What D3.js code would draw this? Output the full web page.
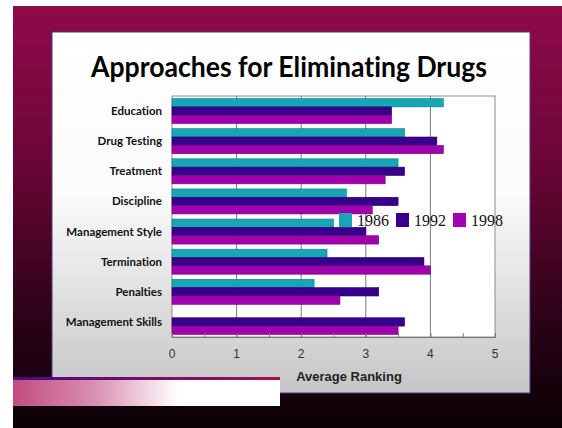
<!DOCTYPE html>
<html>
<head>
<meta charset="utf-8">
<script src="https://cdn.jsdelivr.net/npm/d3@7"></script>
<style>
  body { margin: 0; background: #ffffff; }
  text { font-variant-ligatures: none; }
  .cat-label { font-family: Lato, 'Open Sans', sans-serif; font-weight: bold; font-size: 11.5px; fill: #111; }
  .tick-label { font-family: 'Liberation Sans', Arial, sans-serif; font-size: 12px; fill: #333; }
  .axis-title { font-family: 'Liberation Sans', Arial, sans-serif; font-weight: bold; font-size: 13px; fill: #222; }
  .legend-text { font-family: 'Liberation Serif', 'Times New Roman', serif; font-size: 16px; fill: #111; }
  .chart-title { font-family: Lato, 'Open Sans', sans-serif; font-weight: bold; font-size: 29px; fill: #000; }
</style>
</head>
<body>
<div id="chart"></div>
<script>
// data
var categories = ['Education', 'Drug Testing', 'Treatment', 'Discipline',
    'Management Style', 'Termination', 'Penalties', 'Management Skills'];
var seriesNames = ['1986', '1992', '1998'];
var values1986 = [4.2, 3.6, 3.5, 2.7, 2.5, 2.4, 2.2, 0];
var values1992 = [3.4, 4.1, 3.6, 3.5, 3.0, 3.9, 3.2, 3.6];
var values1998 = [3.4, 4.2, 3.3, 3.1, 3.2, 4.0, 2.6, 3.5];
var tickValues = [0, 1, 2, 3, 4, 5];
var seriesColours = ['#16a6b6', '#37008c', '#a000ae'];
var seriesStrokes = ['#0d7e8a', '#24005e', '#74007e'];

var width = 562, height = 428;

var svg = d3.select('#chart')
    .append('svg')
    .attr('width', width)
    .attr('height', height);

var defs = svg.append('defs');

defs.append('linearGradient')
    .attr('id', 'bg-grad')
    .attr('x1', 0).attr('y1', 0).attr('x2', 0).attr('y2', 1)
    .selectAll('stop')
    .data([['0%', '#8f0a49'], ['35%', '#6e0638'], ['75%', '#2a0216'], ['100%', '#0a0004']])
    .enter().append('stop')
    .attr('offset', function(d) { return d[0]; })
    .attr('stop-color', function(d) { return d[1]; });

defs.append('linearGradient')
    .attr('id', 'panel-grad')
    .attr('x1', 0).attr('y1', 0).attr('x2', 0).attr('y2', 1)
    .selectAll('stop')
    .data([['0%', '#ffffff'], ['45%', '#fbfbfb'], ['100%', '#c6c6c6']])
    .enter().append('stop')
    .attr('offset', function(d) { return d[0]; })
    .attr('stop-color', function(d) { return d[1]; });

defs.append('linearGradient')
    .attr('id', 'strip-grad')
    .attr('x1', 0).attr('y1', 0).attr('x2', 1).attr('y2', 0)
    .selectAll('stop')
    .data([['0%', '#c24c80'], ['30%', '#d88eb0'], ['62%', '#ffffff'], ['100%', '#ffffff']])
    .enter().append('stop')
    .attr('offset', function(d) { return d[0]; })
    .attr('stop-color', function(d) { return d[1]; });

defs.append('linearGradient')
    .attr('id', 'line-grad')
    .attr('x1', 0).attr('y1', 0).attr('x2', 1).attr('y2', 0)
    .selectAll('stop')
    .data([['0%', '#4a0a86'], ['100%', '#a0104e']])
    .enter().append('stop')
    .attr('offset', function(d) { return d[0]; })
    .attr('stop-color', function(d) { return d[1]; });

// slide background
svg.append('rect')
    .attr('x', 13).attr('y', 6)
    .attr('width', width - 13).attr('height', height - 6)
    .style('fill', 'url(#bg-grad)');

// chart panel
svg.append('rect')
    .attr('x', 52).attr('y', 32)
    .attr('width', 478).attr('height', 361)
    .style('fill', 'url(#panel-grad)')
    .style('stroke', '#4b3a86')
    .style('stroke-width', 1);

svg.append('text')
    .attr('class', 'chart-title')
    .attr('x', 91)
    .attr('y', 77)
    .attr('textLength', 396)
    .attr('lengthAdjust', 'spacingAndGlyphs')
    .text('Approaches for Eliminating Drugs');

// plot area
var margin = { left: 172, top: 96, right: 495, bottom: 337 };

var x = d3.scaleLinear()
    .domain([0, 5])
    .range([margin.left, margin.right]);

var y = d3.scaleBand()
    .domain(categories)
    .range([margin.top, margin.bottom])
    .paddingInner(0.17)
    .paddingOuter(0.085);

var ySub = d3.scaleBand()
    .domain(seriesNames)
    .range([0, y.bandwidth()]);

var plot = svg.append('g').attr('class', 'plot');

plot.append('rect')
    .attr('x', margin.left).attr('y', margin.top)
    .attr('width', margin.right - margin.left)
    .attr('height', margin.bottom - margin.top)
    .style('fill', '#ffffff')
    .style('stroke', '#8c8c8c')
    .style('stroke-width', 1);

// gridlines
plot.selectAll('.grid')
    .data(tickValues.slice(1, -1))
    .enter().append('line')
    .attr('class', 'grid')
    .attr('x1', function(d) { return x(d); })
    .attr('x2', function(d) { return x(d); })
    .attr('y1', margin.top)
    .attr('y2', margin.bottom)
    .style('stroke', '#7a7a7a')
    .style('stroke-width', 1);

// bars
var seriesData = [values1986, values1992, values1998];

var rows = [];
categories.forEach(function(c, i) {
    seriesNames.forEach(function(s, j) {
        rows.push({ category: c, series: s, index: j, value: seriesData[j][i] });
    });
});

plot.selectAll('.bar')
    .data(rows.filter(function(d) { return d.value > 0; }))
    .enter().append('rect')
    .attr('class', 'bar')
    .attr('x', x(0))
    .attr('y', function(d) { return y(d.category) + ySub(d.series); })
    .attr('width', function(d) { return x(d.value) - x(0); })
    .attr('height', ySub.bandwidth())
    .style('fill', function(d) { return seriesColours[d.index]; })
    .style('stroke', function(d) { return seriesStrokes[d.index]; })
    .style('stroke-width', 0.6);

// x axis
var xAxis = d3.axisBottom(x)
    .tickValues(d3.range(0, 5.01, 0.5))
    .tickSize(-4)
    .tickFormat('');

plot.append('g')
    .attr('transform', 'translate(0,' + margin.bottom + ')')
    .call(xAxis)
    .call(function(g) {
        g.select('.domain').style('stroke', '#777');
        g.selectAll('.tick line').style('stroke', '#777');
    });

plot.selectAll('.tick-label')
    .data(tickValues)
    .enter().append('text')
    .attr('class', 'tick-label')
    .attr('x', function(d) { return x(d); })
    .attr('y', 358)
    .style('text-anchor', 'middle')
    .text(function(d) { return d; });

// category labels
plot.selectAll('.cat-label')
    .data(categories)
    .enter().append('text')
    .attr('class', 'cat-label')
    .attr('x', 162)
    .attr('y', function(d) { return y(d) + y.bandwidth() / 2; })
    .attr('dy', '0.35em')
    .style('text-anchor', 'end')
    .text(function(d) { return d; });

// legend
var legend = plot.selectAll('.legend-item')
    .data(seriesNames)
    .enter().append('g')
    .attr('class', 'legend-item')
    .attr('transform', function(d, i) { return 'translate(' + (339 + i * 57) + ',213)'; });

legend.append('rect')
    .attr('width', 13)
    .attr('height', 14)
    .style('fill', function(d, i) { return seriesColours[i]; });

legend.append('text')
    .attr('class', 'legend-text')
    .attr('x', 18)
    .attr('y', 13)
    .text(function(d) { return d; });

// bottom-left decorative strip
svg.append('rect')
    .attr('x', 13).attr('y', 380)
    .attr('width', 267).attr('height', 26)
    .style('fill', 'url(#strip-grad)');

svg.append('rect')
    .attr('x', 13).attr('y', 377)
    .attr('width', 267).attr('height', 3)
    .style('fill', 'url(#line-grad)');

svg.append('text')
    .attr('class', 'axis-title')
    .attr('x', 349)
    .attr('y', 381)
    .style('text-anchor', 'middle')
    .text('Average Ranking');
</script>
</body>
</html>
